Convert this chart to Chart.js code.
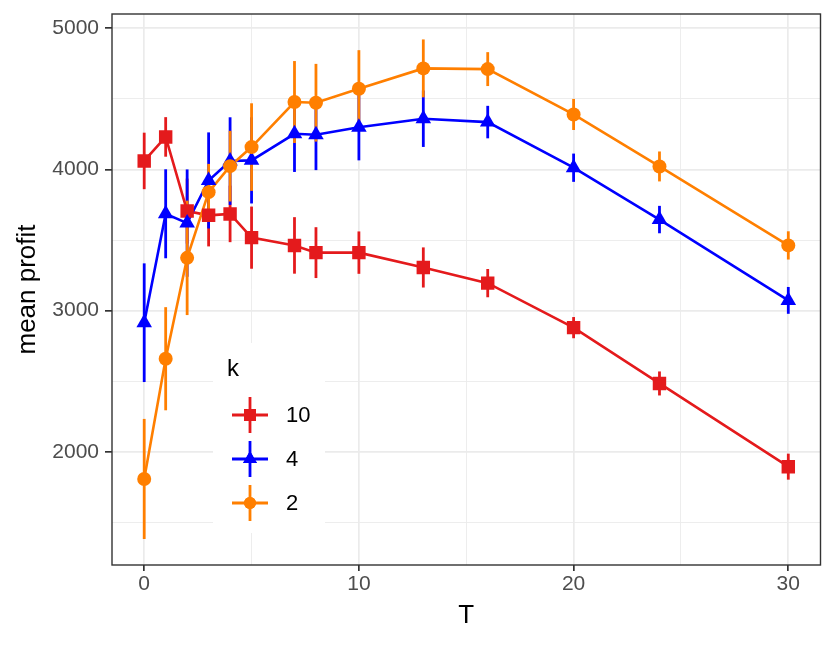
<!DOCTYPE html>
<html>
<head>
<meta charset="utf-8">
<script src="https://cdn.jsdelivr.net/npm/chart.js@4/dist/chart.umd.min.js"></script>
<style>
  html, body { margin: 0; padding: 0; background: #fff; }
  #wrap { width: 830px; height: 646px; }
</style>
</head>
<body>
<div id="wrap"><canvas id="c" width="830" height="646"></canvas></div>
<script>
// ---- data ----
const T = [0, 1, 2, 3, 4, 5, 7, 8, 10, 13, 16, 20, 24, 30];
const k10 = [4060, 4230, 3705, 3675, 3685, 3517, 3462, 3411, 3411, 3306, 3195, 2880, 2485, 1896];
const k10Err = [200, 140, 230, 220, 200, 220, 200, 180, 150, 142, 100, 75, 85, 92];
const k4 = [2915, 3686, 3620, 3922, 4059, 4064, 4252, 4245, 4299, 4359, 4335, 4012, 3645, 3073];
const k4Err = [420, 315, 380, 340, 310, 305, 270, 250, 235, 200, 115, 100, 97, 95];
const k2 = [1809, 2660, 3374, 3839, 4023, 4158, 4477, 4472, 4571, 4715, 4710, 4389, 4021, 3462];
const k2Err = [425, 365, 405, 200, 250, 310, 290, 275, 273, 205, 120, 110, 106, 100];
const seriesNames = ['10', '4', '2'];
const xTicks = [0, 5, 10, 15, 20, 25, 30];
const yTicks = [1500, 2000, 2500, 3000, 3500, 4000, 4500, 5000];

const RED = '#E41A1C', BLUE = '#0000FF', ORANGE = '#FF7F00';
const series = [
  { name: seriesNames[0], y: k10, err: k10Err, color: RED, style: 'rect', radius: 9.5 },
  { name: seriesNames[1], y: k4, err: k4Err, color: BLUE, style: 'triangle', radius: 9 },
  { name: seriesNames[2], y: k2, err: k2Err, color: ORANGE, style: 'circle', radius: 7 }
];

const datasets = [];
series.forEach((s, i) => {
  const pts = T.map((t, j) => ({ x: t, y: s.y[j] }));
  datasets.push({
    label: s.name + ' line', data: pts, borderColor: s.color, borderWidth: 2.6,
    pointRadius: 0, pointHoverRadius: 0, fill: false, tension: 0, order: 5 - i
  });
  datasets.push({
    label: s.name, data: pts, showLine: false, pointStyle: s.style, pointRadius: s.radius,
    pointHoverRadius: s.radius, pointBackgroundColor: s.color, pointBorderColor: s.color,
    pointBorderWidth: 0, order: 2 - i
  });
});

const errorBars = {
  id: 'errorBars',
  beforeDatasetsDraw(chart) {
    const { ctx, scales: { x, y } } = chart;
    ctx.save();
    ctx.lineWidth = 2.8;
    series.forEach(s => {
      ctx.strokeStyle = s.color;
      T.forEach((t, j) => {
        const px = x.getPixelForValue(t);
        ctx.beginPath();
        ctx.moveTo(px, y.getPixelForValue(s.y[j] - s.err[j]));
        ctx.lineTo(px, y.getPixelForValue(s.y[j] + s.err[j]));
        ctx.stroke();
      });
    });
    ctx.restore();
  }
};

function drawMarker(ctx, style, x, y, r, color) {
  Chart.helpers.drawPoint(ctx, { pointStyle: style, radius: r, rotation: 0, borderWidth: 0 }, x, y);
  ctx.fillStyle = color;
  ctx.fill();
}

const legendPlugin = {
  id: 'ggLegend',
  afterDatasetsDraw(chart) {
    const { ctx } = chart;
    ctx.save();
    ctx.fillStyle = '#ffffff';
    ctx.fillRect(213, 343, 112, 190);
    ctx.fillStyle = '#000';
    ctx.font = '24px "Liberation Sans", Arial, sans-serif';
    ctx.textBaseline = 'alphabetic';
    ctx.textAlign = 'left';
    ctx.fillText('k', 227, 376);
    const cx = 250, ys = [415, 459, 503];
    series.forEach((s, i) => {
      const cy = ys[i];
      ctx.strokeStyle = s.color;
      ctx.lineWidth = 2.8;
      ctx.beginPath();
      ctx.moveTo(cx - 18, cy); ctx.lineTo(cx + 18, cy);
      ctx.moveTo(cx, cy - 18); ctx.lineTo(cx, cy + 18);
      ctx.stroke();
      ctx.fillStyle = s.color;
      ctx.beginPath();
      drawMarker(ctx, s.style, cx, cy, s.radius - 1, s.color);
      ctx.fillStyle = '#000';
      ctx.font = '22px "Liberation Sans", Arial, sans-serif';
      ctx.textBaseline = 'middle';
      ctx.fillText(s.name, 286, cy + 1);
    });
    ctx.restore();
  },
  afterDraw(chart) {
    const { ctx, chartArea: a } = chart;
    ctx.save();
    ctx.strokeStyle = '#333333';
    ctx.lineWidth = 1.4;
    ctx.strokeRect(a.left, a.top, a.right - a.left, a.bottom - a.top);
    ctx.restore();
  }
};

const gridColor = '#EBEBEB';
new Chart(document.getElementById('c'), {
  type: 'line',
  data: { datasets },
  options: {
    responsive: false,
    animation: false,
    devicePixelRatio: 1,
    layout: { padding: { left: 0, top: 14, right: 9, bottom: 0 } },
    plugins: { legend: { display: false }, tooltip: { enabled: false } },
    scales: {
      x: {
        type: 'linear', min: -1.5, max: 31.5,
        afterBuildTicks: s => { s.ticks = xTicks.map(v => ({ value: v })); },
        afterFit: s => { s.height = 81; s.paddingLeft = 0; s.paddingRight = 0; },
        border: { display: false },
        grid: {
          color: gridColor,
          lineWidth: c => (c.tick && c.tick.value % 10 === 0) ? 1.7 : 0.9,
          tickColor: c => (c.tick && c.tick.value % 10 === 0) ? '#333333' : 'rgba(0,0,0,0)',
          tickWidth: 1.7, tickLength: 6, drawTicks: true
        },
        ticks: {
          color: '#4D4D4D', font: { size: 21, family: '"Liberation Sans", Arial, sans-serif' },
          padding: 1, maxRotation: 0, autoSkip: false,
          callback: v => (v % 10 === 0 ? String(v) : '')
        },
        title: {
          display: true, text: 'T', color: '#000',
          font: { size: 26, family: '"Liberation Sans", Arial, sans-serif' }, padding: { top: 4, bottom: 15 }
        }
      },
      y: {
        type: 'linear', min: 1200, max: 5100,
        afterBuildTicks: s => { s.ticks = yTicks.map(v => ({ value: v })); },
        afterFit: s => { s.width = 112; s.paddingTop = 0; s.paddingBottom = 0; },
        border: { display: false },
        grid: {
          color: gridColor,
          lineWidth: c => (c.tick && c.tick.value % 1000 === 0) ? 1.7 : 0.9,
          tickColor: c => (c.tick && c.tick.value % 1000 === 0) ? '#333333' : 'rgba(0,0,0,0)',
          tickWidth: 1.7, tickLength: 7, drawTicks: true
        },
        ticks: {
          color: '#4D4D4D', font: { size: 21, family: '"Liberation Sans", Arial, sans-serif' },
          padding: 6, autoSkip: false,
          callback: v => (v % 1000 === 0 ? String(v) : '')
        },
        title: {
          display: true, text: 'mean profit', color: '#000',
          font: { size: 26, family: '"Liberation Sans", Arial, sans-serif' }, padding: { top: 12, bottom: 0 }
        }
      }
    }
  },
  plugins: [errorBars, legendPlugin]
});
</script>
</body>
</html>
